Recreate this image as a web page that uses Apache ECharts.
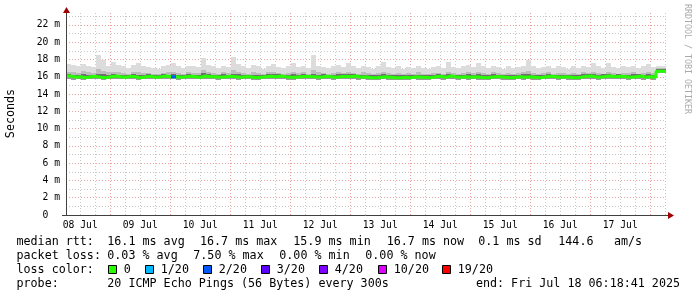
<!DOCTYPE html>
<html><head><meta charset="utf-8">
<script src="https://cdn.jsdelivr.net/npm/echarts@6/dist/echarts.min.js"></script>
<style>html,body{margin:0;padding:0;background:#fff}#c{width:697px;height:297px}</style>
</head><body><div id="c"></div>
<script>
// ---- data ----
const startHour = 6.3;      // hours after 08 Jul 00:00 (left edge)
const endHour = 246.3;      // 18 Jul 06:18
const stepHours = 2;        // one column every 2 h
const dayLabels = ['08 Jul','09 Jul','10 Jul','11 Jul','12 Jul','13 Jul','14 Jul','15 Jul','16 Jul','17 Jul'];
const dayLabelHours = [12,36,60,84,108,132,156,180,204,228];
const yTickValues = [0,2,4,6,8,10,12,14,16,18,20,22];

// median rtt (ms)
const med = [
16.1,15.95,16.0,15.9,16.0,16.05,15.95,15.9,16.0,16.1,
16.0,15.95,16.05,16.0,15.9,16.0,16.05,15.95,16.0,16.1,
16.0,16.0,15.95,16.0,16.05,16.0,15.95,16.1,16.0,16.0,
15.95,16.0,16.05,16.0,15.95,16.0,16.0,15.9,15.95,16.0,
16.05,16.0,16.1,16.0,15.95,15.95,16.0,16.05,16.0,16.0,
15.95,16.05,16.0,15.95,16.0,16.05,16.0,16.1,15.95,16.0,
15.9,15.9,15.95,16.0,15.95,15.9,15.9,15.95,15.9,16.0,
15.95,15.95,15.9,16.0,16.05,15.95,16.1,16.0,15.95,16.0,
15.95,16.0,15.95,15.9,15.95,16.0,16.0,15.95,15.9,15.95,
16.0,15.95,16.0,15.95,15.9,16.0,16.05,16.0,15.95,16.0,
15.95,15.9,15.95,16.05,16.1,16.0,15.95,16.05,16.1,16.0,
16.05,16.0,15.95,16.0,16.1,15.95,16.0,15.95,16.65,16.65];
// bottom of smoke (ms)
const lo = [
15.7,15.65,15.7,15.65,15.7,15.75,15.7,15.65,15.7,15.75,
15.7,15.7,15.75,15.7,15.65,15.7,15.75,15.7,15.7,15.75,
15.7,15.7,15.65,15.7,15.75,15.7,15.7,15.75,15.7,15.7,
15.65,15.7,15.75,15.7,15.65,15.7,15.7,15.65,15.65,15.7,
15.75,15.7,15.75,15.7,15.65,15.65,15.7,15.75,15.7,15.7,
15.65,15.75,15.7,15.65,15.7,15.75,15.7,15.75,15.65,15.7,
15.65,15.6,15.65,15.7,15.65,15.6,15.65,15.65,15.6,15.7,
15.65,15.65,15.6,15.7,15.75,15.65,15.75,15.7,15.65,15.7,
15.65,15.7,15.65,15.6,15.65,15.7,15.7,15.65,15.6,15.65,
15.7,15.65,15.7,15.65,15.6,15.7,15.75,15.7,15.65,15.7,
15.65,15.6,15.65,15.75,15.75,15.7,15.65,15.75,15.75,15.7,
15.75,15.7,15.65,15.7,15.75,15.65,15.7,15.65,16.4,16.4];
// top of dark smoke (ms)
const dk = [
16.35,16.25,16.2,16.3,16.25,16.2,16.35,16.3,16.2,16.35,
16.25,16.2,16.25,16.3,16.25,16.2,16.3,16.2,16.2,16.3,
16.25,16.3,16.2,16.2,16.3,16.25,16.2,16.4,16.3,16.2,
16.2,16.3,16.25,16.35,16.3,16.2,16.2,16.25,16.2,16.2,
16.3,16.3,16.35,16.2,16.2,16.3,16.2,16.3,16.2,16.35,
16.25,16.3,16.2,16.2,16.3,16.3,16.3,16.35,16.2,16.25,
16.2,16.15,16.2,16.3,16.2,16.15,16.2,16.2,16.15,16.25,
16.25,16.2,16.15,16.25,16.3,16.2,16.35,16.25,16.2,16.25,
16.3,16.25,16.3,16.2,16.2,16.3,16.25,16.2,16.2,16.2,
16.25,16.3,16.35,16.2,16.15,16.25,16.3,16.2,16.25,16.25,
16.2,16.2,16.2,16.3,16.35,16.3,16.2,16.3,16.35,16.25,
16.3,16.25,16.2,16.3,16.35,16.2,16.3,16.2,16.85,16.85];
// top of medium smoke (ms)
const mid = [
16.6,16.5,16.4,16.7,16.5,16.4,16.9,16.7,16.5,16.6,
16.5,16.4,16.3,16.5,16.6,16.4,16.4,16.3,16.3,16.4,
16.5,16.6,16.4,16.3,16.5,16.4,16.4,16.8,16.5,16.4,
16.3,16.5,16.4,16.8,16.6,16.4,16.3,16.5,16.4,16.3,
16.5,16.6,16.4,16.3,16.4,16.6,16.4,16.5,16.3,16.8,
16.5,16.4,16.3,16.4,16.5,16.4,16.6,16.4,16.3,16.5,
16.4,16.3,16.4,16.6,16.4,16.3,16.4,16.3,16.4,16.3,
16.5,16.3,16.3,16.4,16.4,16.3,16.6,16.4,16.3,16.4,
16.5,16.4,16.6,16.4,16.3,16.5,16.4,16.3,16.4,16.3,
16.4,16.5,16.7,16.4,16.3,16.4,16.5,16.3,16.4,16.4,
16.3,16.4,16.3,16.5,16.4,16.6,16.4,16.3,16.6,16.4,
16.3,16.4,16.4,16.5,16.3,16.4,16.6,16.4,17.0,17.0];
// top of light smoke (ms)
const hi = [
17.5,17.4,17.2,17.5,17.3,17.1,18.5,18.0,17.3,17.7,
17.4,17.2,17.0,17.4,17.6,17.2,17.1,17.0,16.9,17.2,
17.4,17.6,17.2,17.0,17.3,17.2,17.1,18.2,17.4,17.2,
17.0,17.3,17.1,18.3,17.5,17.2,17.0,17.4,17.2,16.9,
17.3,17.5,17.1,17.0,17.2,17.6,17.1,17.3,17.0,18.5,
17.3,17.1,17.0,17.2,17.4,17.1,17.6,17.2,17.0,17.3,
17.1,16.9,17.2,17.75,17.1,17.0,17.2,16.9,17.1,17.0,
17.3,17.0,16.9,17.1,17.2,17.0,17.7,17.1,17.0,17.2,
17.4,17.1,17.6,17.2,17.0,17.3,17.1,16.9,17.2,17.0,
17.1,17.3,17.9,17.2,17.0,17.1,17.3,17.0,17.2,17.1,
16.9,17.2,17.0,17.3,17.1,17.6,17.2,17.0,17.6,17.1,
17.0,17.2,17.1,17.3,17.0,17.2,17.5,17.1,17.3,17.3];
// lost pings out of 20 per column
const loss = [
0,0,0,0,0,0,0,0,0,0, 0,0,0,0,0,0,0,0,0,0,
0,2,0,0,0,0,0,0,0,0, 0,0,0,0,0,0,0,0,0,0,
0,0,0,0,0,0,0,0,0,0, 0,0,0,0,0,0,0,0,0,0,
0,0,0,0,0,0,0,0,0,0, 0,0,0,0,0,0,0,0,0,0,
0,0,0,0,0,0,0,0,0,0, 0,0,0,0,0,0,0,0,0,0,
0,0,0,0,0,0,0,0,0,0, 0,0,0,0,0,0,0,0,0,0];

const lossKeys = [0,1,2,3,4,10,19];
const lossKeyLabels = ['0','1/20','2/20','3/20','4/20','10/20','19/20'];

// ---- styles / layout ----
const lossColors = {0:'#26ff00',1:'#00b8ff',2:'#0059ff',3:'#5e00ff',4:'#7e00ff',10:'#dd00ff',19:'#ff0000'};
const smokeColors = ['#9a9a9a', '#6e6e6e', '#bcbcbc', '#dcdcdc']; // lo-med, med-dk, dk-mid, mid-hi
const MONO = '"DejaVu Sans Mono", monospace';

const n = med.length;
const xs = med.map((_, i) => startHour + stepHours * i);
const xEnd = i => (i + 1 < n ? xs[i + 1] : endHour);
function pts(vals) {
  const d = vals.map((v, i) => [xs[i], v]);
  d.push([endHour, vals[vals.length - 1]]);
  return d;
}

const gridLineSeries = {
  type: 'line', data: [], silent: true, z: 1,
  markLine: {
    silent: true, symbol: 'none', z: 1, animation: false,
    label: { show: false },
    data: []
  }
};
for (let v = 1; v <= 23; v++) {
  gridLineSeries.markLine.data.push({ yAxis: v, lineStyle: {
    color: v % 2 === 0 ? '#e8a0a0' : '#c8c8c8', type: [1, 2], width: 1 } });
}
for (let h = 12; h <= 246; h += 6) {
  gridLineSeries.markLine.data.push({ xAxis: h, lineStyle: {
    color: h % 24 === 0 ? '#e8a0a0' : '#c8c8c8', type: [1, 2], width: 1 } });
}

const smokeSeries = {
  type: 'custom', z: 2, silent: true,
  data: med.map((_, i) => [xs[i], xEnd(i), lo[i], med[i], dk[i], mid[i], hi[i]]),
  encode: { x: [0, 1], y: [2, 3, 4, 5, 6] },
  renderItem: (params, api) => {
    const x0 = api.value(0), x1 = api.value(1);
    const levels = [api.value(2), api.value(3), api.value(4), api.value(5), api.value(6)];
    const children = [];
    for (let k = 0; k < 4; k++) {
      const pA = api.coord([x0, levels[k + 1]]);
      const pB = api.coord([x1, levels[k]]);
      const left = Math.round(pA[0]), right = Math.round(pB[0]);
      const top = Math.round(pA[1]), bottom = Math.round(pB[1]);
      if (bottom <= top) continue;
      children.push({ type: 'rect', shape: { x: left, y: top, width: right - left, height: bottom - top },
        style: { fill: smokeColors[k] } });
    }
    return { type: 'group', children };
  }
};

const series = [
  gridLineSeries,
  smokeSeries,
  {
    name: 'median', type: 'line', step: 'end', data: pts(med), z: 3,
    showSymbol: false, symbol: 'none', silent: true,
    lineStyle: { width: 3, color: lossColors[0] }
  }
];
function lossColor(c0) {
  let c = lossColors[0];
  lossKeys.forEach(k => { if (c0 >= k) c = lossColors[k]; });
  return c;
}
loss.forEach((l, i) => {
  if (l > 0) {
    series.push({
      type: 'line', step: 'end', z: 4, showSymbol: false, symbol: 'none', silent: true,
      data: [[xs[i], med[i]], [xEnd(i), med[i]]],
      lineStyle: { width: 3, color: lossColor(l) }
    });
  }
});

// legend graphics
const g = [];
function txt(s, x, y, align) {
  g.push({ type: 'text', x, y, silent: true,
    style: { text: s, fill: '#000', font: '11.7px ' + MONO, align: align || 'left', verticalAlign: 'middle' } });
}
txt('median rtt:', 16.5, 241.5);
txt('16.1 ms avg', 107.3, 241.5);
txt('16.7 ms max', 200, 241.5);
txt('15.9 ms min', 293.3, 241.5);
txt('16.7 ms now', 386.7, 241.5);
txt('0.1 ms sd', 478.3, 241.5);
txt('144.6', 558.3, 241.5);
txt('am/s', 614, 241.5);

txt('packet loss:', 16.5, 255.5);
txt('0.03 % avg', 107.3, 255.5);
txt('7.50 % max', 193.3, 255.5);
txt('0.00 % min', 279.3, 255.5);
txt('0.00 % now', 365.3, 255.5);

txt('loss color:', 16.5, 269.5);
const boxX = [108.5, 145.5, 203.5, 261.5, 319.5, 378.5, 442.5];
lossKeys.forEach((k, j) => {
  g.push({ type: 'rect', silent: true, shape: { x: boxX[j], y: 265.5, width: 8, height: 8 },
    style: { fill: lossColors[k], stroke: '#000', lineWidth: 1 } });
  txt(lossKeyLabels[j], boxX[j] + 15.3, 269.5);
});

txt('probe:', 16.5, 283.5);
txt('20 ICMP Echo Pings (56 Bytes) every 300s', 107.3, 283.5);
txt('end: Fri Jul 18 06:18:41 2025', 680, 283.5, 'right');

// y axis title & watermark
g.push({ type: 'text', x: 11, y: 113.5, rotation: Math.PI / 2, silent: true,
  style: { text: 'Seconds', fill: '#000', font: '11.7px ' + MONO, align: 'center', verticalAlign: 'middle' } });
g.push({ type: 'text', x: 687.5, y: 59, rotation: -Math.PI / 2, silent: true,
  style: { text: 'RRDTOOL / TOBI OETIKER', fill: '#aaaaaa', font: '8.3px ' + MONO, align: 'center', verticalAlign: 'middle' } });
// axis lines and arrows
g.push({ type: 'line', silent: true, z: 10, shape: { x1: 62, y1: 215.5, x2: 669, y2: 215.5 }, style: { stroke: '#404040', lineWidth: 1 } });
g.push({ type: 'line', silent: true, z: 10, shape: { x1: 66.5, y1: 215, x2: 66.5, y2: 9 }, style: { stroke: '#404040', lineWidth: 1 } });
g.push({ type: 'polygon', silent: true, z: 10, shape: { points: [[668, 212], [674, 215.5], [668, 219]] }, style: { fill: '#a00000' } });
g.push({ type: 'polygon', silent: true, z: 10, shape: { points: [[63, 13], [66.5, 7], [70, 13]] }, style: { fill: '#a00000' } });

const chart = echarts.init(document.getElementById('c'), null, { renderer: 'canvas' });
chart.setOption({
  animation: false,
  backgroundColor: '#ffffff',
  grid: { left: 66, top: 12, width: 600, height: 203, containLabel: false },
  xAxis: {
    type: 'value', min: startHour, max: endHour,
    axisLine: { show: false },
    axisTick: { show: false },
    splitLine: { show: false },
    axisLabel: {
      customValues: dayLabelHours,
      formatter: v => dayLabels[dayLabelHours.indexOf(Math.round(v))] || '',
      fontFamily: MONO, fontSize: 9.7, color: '#000', margin: 5
    }
  },
  yAxis: {
    type: 'value', min: 0, max: 23.5, interval: 2,
    axisLine: { show: false },
    axisTick: { show: false },
    splitLine: { show: false },
    axisLabel: {
      customValues: yTickValues,
      formatter: v => v === 0 ? '0  ' : v + ' m',
      fontFamily: MONO, fontSize: 9.7, color: '#000', margin: 6
    }
  },
  series: series,
  graphic: g
});
</script>
</body></html>
